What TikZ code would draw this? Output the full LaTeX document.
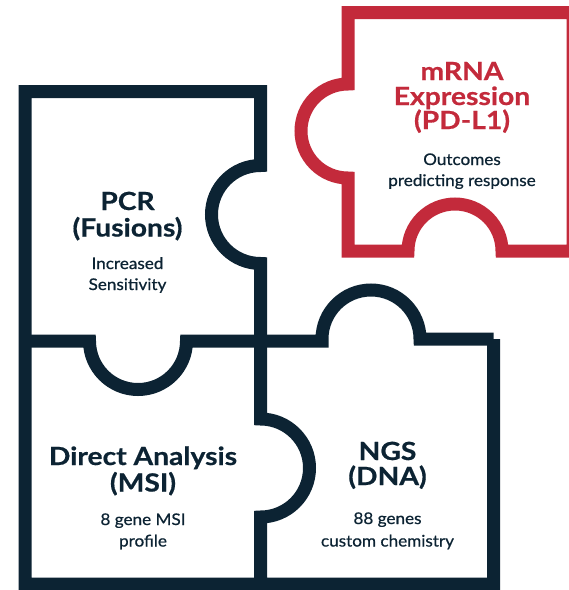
\documentclass[tikz,border=0pt]{standalone}
\usepackage{fontspec}
\setmainfont{Lato}
\newfontfamily\ttlfont{Lato}[FakeStretch=1.13, BoldFeatures={FakeBold=0.6}]
\newfontfamily\subfont{Lato}[FakeStretch=1.07, FakeBold=0.7]
\definecolor{navy}{HTML}{0C2333}
\definecolor{pzred}{HTML}{C32A3B}
\begin{document}
\begin{tikzpicture}[x=1pt,y=-1pt,
  navyline/.style={draw=navy, line width=13pt, line join=miter},
  redline/.style={draw=pzred, line width=13pt, line join=miter},
  ttl/.style={font=\ttlfont\fontsize{25}{26}\selectfont\bfseries, text=navy, anchor=base, inner sep=0pt},
  sub/.style={font=\subfont\fontsize{16}{18}\selectfont, text=navy, anchor=base, inner sep=0pt},
]
\useasboundingbox (0,0) rectangle (569,590);
\begin{scope}
\clip (0,0) rectangle (569,590);
% red piece
\draw[redline] (573,12.5) -- (348,12.5) -- (348,84) arc[start angle=270,end angle=90,radius=47]
  -- (348,251) -- (408,251) arc[start angle=180,end angle=360,radius=47] -- (573,251) -- cycle;
% navy outline and middle vertical
\draw[navyline] (493.5,339) -- (493.5,584) -- (25,584) -- (25,91.5) -- (260.5,91.5)
  -- (260.5,165.5) arc[start angle=270,end angle=90,radius=49]
  -- (260.5,419) arc[start angle=-90,end angle=90,radius=49] -- (260.5,584);
% middle horizontal
\draw[navyline, line cap=square] (25,341) -- (89.5,341) arc[start angle=180,end angle=0,radius=48.5]
  -- (322,341) -- (322,339) arc[start angle=180,end angle=360,radius=49] -- (493.5,339);
\end{scope}
% texts
\node[ttl, text=pzred] (rT1) at (462,80) {mRNA};
\node[ttl, text=pzred] (rT2) at (462,105) {Expression};
\node[ttl, text=pzred] (rT3) at (462,129) {(PD-L1)};
\node[sub] (rS1) at (462,165) {Outcomes};
\node[sub] (rS2) at (462,186) {predicting response};

\node[ttl] (pT1) at (127.5,210) {PCR};
\node[ttl] (pT2) at (127.5,236.5) {(Fusions)};
\node[sub] (pS1) at (127.5,269) {Increased};
\node[sub] (pS2) at (127.5,290) {Sensitivity};

\node[ttl] (mT1) at (143,465) {Direct Analysis};
\node[ttl] (mT2) at (143,491.5) {(MSI)};
\node[sub] (mS1) at (143,525) {8 gene MSI};
\node[sub] (mS2) at (143,546.5) {profile};

\node[ttl] (nT1) at (387.5,460) {NGS};
\node[ttl] (nT2) at (387.5,485) {(DNA)};
\node[sub] (nS1) at (387.5,524) {88 genes};
\node[sub] (nS2) at (387.5,546.5) {custom chemistry};
\end{tikzpicture}
\end{document}
